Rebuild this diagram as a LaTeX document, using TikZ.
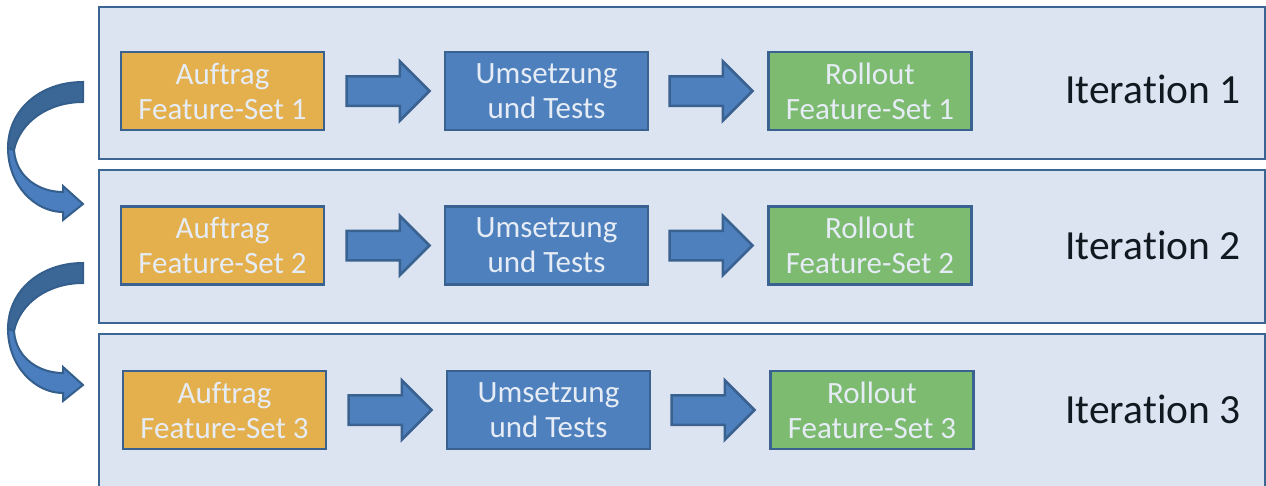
\documentclass[tikz,border=0pt]{standalone}
\usepackage{fontspec}
\setmainfont{Carlito}[RawFeature={-liga;-clig;-calt;-dlig}]
\usetikzlibrary{shapes.arrows,calc}
\definecolor{panelfill}{HTML}{DDE4F1}
\definecolor{panelline}{HTML}{3B6593}
\definecolor{boxline}{HTML}{3A6290}
\definecolor{orangefill}{HTML}{E4B04D}
\definecolor{bluefill}{HTML}{4E80BD}
\definecolor{greenfill}{HTML}{7DBB70}
\definecolor{boxtext}{HTML}{E6ECF5}
\definecolor{itertext}{HTML}{101820}
\definecolor{curvedark}{HTML}{3B6796}
\definecolor{curvelight}{HTML}{4A7EBF}
\definecolor{curveline}{HTML}{345E8C}
\tikzset{
  panel/.style={draw=panelline, fill=panelfill, line width=2.5pt, minimum width=1166pt, inner sep=0pt},
  stagebox/.style={draw=boxline, line width=2.5pt, minimum width=203pt, minimum height=78pt,
    inner sep=0pt, align=center, text=boxtext, font=\fontsize{31}{35}\selectfont},
  obox/.style={stagebox, fill=orangefill},
  bbox/.style={stagebox, fill=bluefill},
  gbox/.style={stagebox, fill=greenfill},
  barrow/.style={shape=single arrow, draw=boxline, fill=bluefill, line width=2.5pt,
    minimum height=83pt, inner xsep=0pt, inner ysep=13.5pt, single arrow head extend=15pt,
    anchor=tail},
  iterlabel/.style={text=itertext, font=\fontsize{41.5}{44}\selectfont, inner sep=0pt},
  curvepart/.style={draw=curveline, line width=2pt, line join=miter}
}
\begin{document}
\begin{tikzpicture}[x=1pt,y=-1pt]
\useasboundingbox (0,0) rectangle (1266,485);
% panels
\node[panel, minimum height=152pt] (p1) at (682,83) {};
\node[panel, minimum height=153pt] (p2) at (682,246.5) {};
\node[panel, minimum height=160pt] (p3) at (682,414) {};
% row 1
\node[obox] (o1) at (222.5,91) {Auftrag\\Feature-Set 1};
\node[bbox] (b1) at (546.5,91) {Umsetzung\\und Tests};
\node[gbox] (g1) at (870,91) {Rollout\\Feature-Set 1};
\node[barrow] (a11) at ($(o1.east)+(20,0)$) {};
\node[barrow] (a12) at ($(b1.east)+(19,0)$) {};
\node[iterlabel] (i1) at (1153,89) {Itera\kern0pt tion 1};
% row 2
\node[obox] (o2) at (222.5,245.5) {Auftrag\\Feature-Set 2};
\node[bbox] (b2) at (546.5,245.5) {Umsetzung\\und Tests};
\node[gbox] (g2) at (870,245.5) {Rollout\\Feature-Set 2};
\node[barrow] (a21) at ($(o2.east)+(20,0)$) {};
\node[barrow] (a22) at ($(b2.east)+(19,0)$) {};
\node[iterlabel] (i2) at (1153,245) {Itera\kern0pt tion 2};
% row 3
\node[obox] (o3) at (224.5,410) {Auftrag\\Feature-Set 3};
\node[bbox] (b3) at (548.5,410) {Umsetzung\\und Tests};
\node[gbox] (g3) at (872,410) {Rollout\\Feature-Set 3};
\node[barrow] (a31) at ($(o3.east)+(20,0)$) {};
\node[barrow] (a32) at ($(b3.east)+(19,0)$) {};
\node[iterlabel] (i3) at (1153,409) {Itera\kern0pt tion 3};
% curved arrows
\foreach \dy in {0,181}{
\begin{scope}[shift={(0,\dy)}]
  \draw[curvepart, fill=curvedark] (83,82) .. controls (40,82) and (8,110) .. (8,148)
     -- (14,150) .. controls (20,122) and (48,102) .. (83,102) -- cycle;
  \draw[curvepart, fill=curvelight] (8,148) .. controls (8,185) and (35,212) .. (63,212)
     -- (63,220) -- (83,204) -- (63,186) -- (63,192)
     .. controls (40,192) and (16,178) .. (14,150) -- cycle;
\end{scope}
}
\end{tikzpicture}
\end{document}
